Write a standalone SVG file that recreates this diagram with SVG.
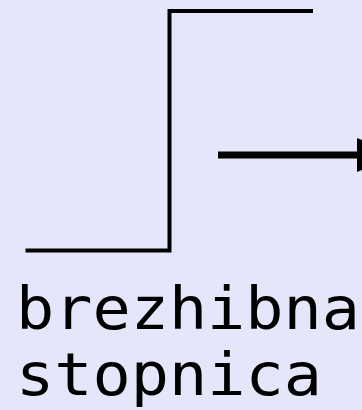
<svg xmlns="http://www.w3.org/2000/svg" width="362" height="410" viewBox="0 0 362 410">
<style>
.ln{fill:none;stroke:#000;stroke-width:4}
.lbl{font-family:"DejaVu Sans Mono",monospace;font-size:58px;fill:#000}
</style>
<rect width="362" height="410" fill="#E6E6FA"/>
<g id="step">
<polyline class="ln" points="25.5,250.5 169.5,250.5 169.5,11 313,11"/>
</g>
<g id="connectors">
<line x1="218" y1="155" x2="358" y2="155" stroke="#000" stroke-width="7"/>
<polygon points="357,138 357,172 400,155" fill="#000"/>
</g>
<g id="label">
<text class="lbl" x="16" y="329" textLength="344" lengthAdjust="spacingAndGlyphs">brezhibna</text>
<text class="lbl" x="16" y="395" textLength="306" lengthAdjust="spacingAndGlyphs">stopnica</text>
</g>
</svg>
